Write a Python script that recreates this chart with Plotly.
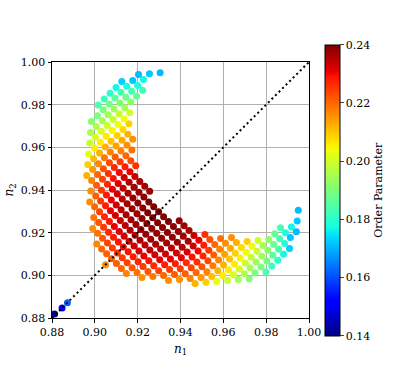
import plotly.graph_objects as go

# --- data (n1, n2, order parameter) ---

# small tail near the origin of the plot
tail_n1 = [0.8812, 0.8847, 0.8872]
tail_n2 = [0.8819, 0.8847, 0.8872]
tail_op = [0.142, 0.151, 0.162]

# dense central patch, one line per diagonal stripe
core_n1 = [
    0.9050,
    0.9009, 0.9032, 0.9055, 0.9078, 0.9101, 0.9124, 0.9147,
    0.8990, 0.9013, 0.9036, 0.9059, 0.9082, 0.9105, 0.9128, 0.9151, 0.9174, 0.9197, 0.9220,
    0.8995, 0.9018, 0.9041, 0.9064, 0.9087, 0.9110, 0.9133, 0.9156, 0.9179, 0.9202, 0.9225, 0.9248, 0.9271,
    0.8976, 0.8999, 0.9022, 0.9045, 0.9068, 0.9091, 0.9114, 0.9137, 0.9160, 0.9183, 0.9206, 0.9229, 0.9252,
    0.9275, 0.9298, 0.9321, 0.9344,
    0.8981, 0.9004, 0.9027, 0.9050, 0.9073, 0.9096, 0.9119, 0.9142, 0.9165, 0.9188, 0.9211, 0.9234, 0.9257,
    0.9280, 0.9303, 0.9326, 0.9349, 0.9372, 0.9395,
    0.8962, 0.8985, 0.9008, 0.9031, 0.9054, 0.9077, 0.9100, 0.9123, 0.9146, 0.9169, 0.9192, 0.9215, 0.9238,
    0.9261, 0.9284, 0.9307, 0.9330, 0.9353, 0.9376, 0.9399, 0.9422, 0.9445, 0.9468,
    0.8967, 0.8990, 0.9013, 0.9036, 0.9059, 0.9082, 0.9105, 0.9128, 0.9151, 0.9174, 0.9197, 0.9220, 0.9243,
    0.9266, 0.9289, 0.9312, 0.9335, 0.9358, 0.9381, 0.9404, 0.9427, 0.9450, 0.9473, 0.9496, 0.9519,
    0.8971, 0.8994, 0.9017, 0.9040, 0.9063, 0.9086, 0.9109, 0.9132, 0.9155, 0.9178, 0.9201, 0.9224, 0.9247,
    0.9270, 0.9293, 0.9316, 0.9339, 0.9362, 0.9385, 0.9408, 0.9431, 0.9454, 0.9477, 0.9500, 0.9523, 0.9546,
    0.9569,
    0.8976, 0.8999, 0.9022, 0.9045, 0.9068, 0.9091, 0.9114, 0.9137, 0.9160, 0.9183, 0.9206, 0.9229, 0.9252,
    0.9275, 0.9298, 0.9321, 0.9344, 0.9367, 0.9390, 0.9413, 0.9436, 0.9459, 0.9482, 0.9505, 0.9528, 0.9551,
    0.9574, 0.9597, 0.9620,
]
core_n2 = [
    0.9050,
    0.9147, 0.9124, 0.9101, 0.9078, 0.9055, 0.9032, 0.9009,
    0.9220, 0.9197, 0.9174, 0.9151, 0.9128, 0.9105, 0.9082, 0.9059, 0.9036, 0.9013, 0.8990,
    0.9271, 0.9248, 0.9225, 0.9202, 0.9179, 0.9156, 0.9133, 0.9110, 0.9087, 0.9064, 0.9041, 0.9018, 0.8995,
    0.9344, 0.9321, 0.9298, 0.9275, 0.9252, 0.9229, 0.9206, 0.9183, 0.9160, 0.9137, 0.9114, 0.9091, 0.9068,
    0.9045, 0.9022, 0.8999, 0.8976,
    0.9395, 0.9372, 0.9349, 0.9326, 0.9303, 0.9280, 0.9257, 0.9234, 0.9211, 0.9188, 0.9165, 0.9142, 0.9119,
    0.9096, 0.9073, 0.9050, 0.9027, 0.9004, 0.8981,
    0.9468, 0.9445, 0.9422, 0.9399, 0.9376, 0.9353, 0.9330, 0.9307, 0.9284, 0.9261, 0.9238, 0.9215, 0.9192,
    0.9169, 0.9146, 0.9123, 0.9100, 0.9077, 0.9054, 0.9031, 0.9008, 0.8985, 0.8962,
    0.9519, 0.9496, 0.9473, 0.9450, 0.9427, 0.9404, 0.9381, 0.9358, 0.9335, 0.9312, 0.9289, 0.9266, 0.9243,
    0.9220, 0.9197, 0.9174, 0.9151, 0.9128, 0.9105, 0.9082, 0.9059, 0.9036, 0.9013, 0.8990, 0.8967,
    0.9569, 0.9546, 0.9523, 0.9500, 0.9477, 0.9454, 0.9431, 0.9408, 0.9385, 0.9362, 0.9339, 0.9316, 0.9293,
    0.9270, 0.9247, 0.9224, 0.9201, 0.9178, 0.9155, 0.9132, 0.9109, 0.9086, 0.9063, 0.9040, 0.9017, 0.8994,
    0.8971,
    0.9620, 0.9597, 0.9574, 0.9551, 0.9528, 0.9505, 0.9482, 0.9459, 0.9436, 0.9413, 0.9390, 0.9367, 0.9344,
    0.9321, 0.9298, 0.9275, 0.9252, 0.9229, 0.9206, 0.9183, 0.9160, 0.9137, 0.9114, 0.9091, 0.9068, 0.9045,
    0.9022, 0.8999, 0.8976,
]
core_op = [
    0.216,
    0.217, 0.220, 0.221, 0.221, 0.221, 0.220, 0.217,
    0.216, 0.219, 0.222, 0.224, 0.225, 0.226, 0.225, 0.224, 0.222, 0.219, 0.216,
    0.218, 0.222, 0.225, 0.227, 0.228, 0.229, 0.230, 0.229, 0.228, 0.227, 0.225, 0.222, 0.218,
    0.216, 0.220, 0.224, 0.227, 0.229, 0.231, 0.232, 0.233, 0.233, 0.233, 0.232, 0.231, 0.229,
    0.227, 0.224, 0.220, 0.216,
    0.216, 0.221, 0.225, 0.228, 0.231, 0.233, 0.234, 0.235, 0.236, 0.236, 0.236, 0.235, 0.234,
    0.233, 0.231, 0.228, 0.225, 0.221, 0.216,
    0.212, 0.217, 0.221, 0.225, 0.228, 0.231, 0.233, 0.235, 0.236, 0.237, 0.238, 0.238, 0.238,
    0.237, 0.236, 0.235, 0.233, 0.231, 0.228, 0.225, 0.221, 0.217, 0.212,
    0.209, 0.215, 0.220, 0.224, 0.227, 0.231, 0.233, 0.235, 0.237, 0.238, 0.238, 0.239, 0.239,
    0.239, 0.238, 0.238, 0.237, 0.235, 0.233, 0.231, 0.227, 0.224, 0.220, 0.215, 0.209,
    0.203, 0.211, 0.217, 0.222, 0.226, 0.229, 0.232, 0.235, 0.237, 0.238, 0.239, 0.239, 0.240,
    0.240, 0.240, 0.239, 0.239, 0.238, 0.237, 0.235, 0.232, 0.229, 0.226, 0.222, 0.217, 0.211,
    0.203,
    0.199, 0.206, 0.212, 0.218, 0.223, 0.227, 0.230, 0.233, 0.236, 0.237, 0.238, 0.239, 0.240,
    0.240, 0.240, 0.240, 0.240, 0.239, 0.238, 0.237, 0.236, 0.233, 0.230, 0.227, 0.223, 0.218,
    0.212, 0.206, 0.199,
]

# lower-right arm (n1 > n2)
lower_n1 = [
    0.9394, 0.9417, 0.9440, 0.9463, 0.9486, 0.9509, 0.9532, 0.9555, 0.9578, 0.9601, 0.9624, 0.9647, 0.9670,
    0.9514, 0.9537, 0.9560, 0.9583, 0.9606, 0.9629, 0.9652, 0.9675, 0.9698, 0.9721,
    0.9587, 0.9610, 0.9633, 0.9656, 0.9679, 0.9702, 0.9725, 0.9748,
    0.9638, 0.9661, 0.9684, 0.9707, 0.9730, 0.9753, 0.9776, 0.9799,
    0.9711, 0.9734, 0.9757, 0.9780, 0.9803, 0.9826,
    0.9762, 0.9785, 0.9808, 0.9831, 0.9854,
    0.9812, 0.9835, 0.9858, 0.9881,
    0.9840, 0.9863, 0.9886, 0.9909,
    0.9867, 0.9890, 0.9913,
    0.9918, 0.9941,
    0.9945,
    0.9950,
]
lower_n2 = [
    0.9256, 0.9233, 0.9210, 0.9187, 0.9164, 0.9141, 0.9118, 0.9095, 0.9072, 0.9049, 0.9026, 0.9003, 0.8980,
    0.9191, 0.9168, 0.9145, 0.9122, 0.9099, 0.9076, 0.9053, 0.9030, 0.9007, 0.8984,
    0.9173, 0.9150, 0.9127, 0.9104, 0.9081, 0.9058, 0.9035, 0.9012,
    0.9177, 0.9154, 0.9131, 0.9108, 0.9085, 0.9062, 0.9039, 0.9016,
    0.9159, 0.9136, 0.9113, 0.9090, 0.9067, 0.9044,
    0.9163, 0.9140, 0.9117, 0.9094, 0.9071,
    0.9168, 0.9145, 0.9122, 0.9099,
    0.9195, 0.9172, 0.9149, 0.9126,
    0.9223, 0.9200, 0.9177,
    0.9227, 0.9204,
    0.9255,
    0.9305,
]
lower_op = [
    0.238, 0.237, 0.236, 0.234, 0.231, 0.228, 0.225, 0.221, 0.217, 0.212, 0.206, 0.201, 0.195,
    0.226, 0.223, 0.220, 0.217, 0.214, 0.210, 0.206, 0.201, 0.196, 0.191,
    0.219, 0.216, 0.213, 0.209, 0.205, 0.200, 0.195, 0.190,
    0.216, 0.212, 0.208, 0.204, 0.199, 0.194, 0.190, 0.184,
    0.209, 0.204, 0.199, 0.194, 0.189, 0.182,
    0.200, 0.195, 0.191, 0.186, 0.180,
    0.192, 0.188, 0.184, 0.177,
    0.187, 0.183, 0.179, 0.173,
    0.183, 0.178, 0.172,
    0.177, 0.171,
    0.172,
    0.171,
]

# upper-left arm (n2 > n1)
upper_n1 = [
    0.9256, 0.9233, 0.9210, 0.9187, 0.9164, 0.9141, 0.9118, 0.9095, 0.9072, 0.9049, 0.9026, 0.9003, 0.8980,
    0.9191, 0.9168, 0.9145, 0.9122, 0.9099, 0.9076, 0.9053, 0.9030, 0.9007, 0.8984,
    0.9173, 0.9150, 0.9127, 0.9104, 0.9081, 0.9058, 0.9035, 0.9012,
    0.9177, 0.9154, 0.9131, 0.9108, 0.9085, 0.9062, 0.9039, 0.9016,
    0.9159, 0.9136, 0.9113, 0.9090, 0.9067, 0.9044,
    0.9163, 0.9140, 0.9117, 0.9094, 0.9071,
    0.9168, 0.9145, 0.9122, 0.9099,
    0.9195, 0.9172, 0.9149, 0.9126,
    0.9223, 0.9200, 0.9177,
    0.9227, 0.9204,
    0.9255,
    0.9305,
]
upper_n2 = [
    0.9394, 0.9417, 0.9440, 0.9463, 0.9486, 0.9509, 0.9532, 0.9555, 0.9578, 0.9601, 0.9624, 0.9647, 0.9670,
    0.9514, 0.9537, 0.9560, 0.9583, 0.9606, 0.9629, 0.9652, 0.9675, 0.9698, 0.9721,
    0.9587, 0.9610, 0.9633, 0.9656, 0.9679, 0.9702, 0.9725, 0.9748,
    0.9638, 0.9661, 0.9684, 0.9707, 0.9730, 0.9753, 0.9776, 0.9799,
    0.9711, 0.9734, 0.9757, 0.9780, 0.9803, 0.9826,
    0.9762, 0.9785, 0.9808, 0.9831, 0.9854,
    0.9812, 0.9835, 0.9858, 0.9881,
    0.9840, 0.9863, 0.9886, 0.9909,
    0.9867, 0.9890, 0.9913,
    0.9918, 0.9941,
    0.9945,
    0.9950,
]
upper_op = [
    0.238, 0.237, 0.236, 0.234, 0.231, 0.228, 0.225, 0.221, 0.217, 0.212, 0.206, 0.201, 0.195,
    0.226, 0.223, 0.220, 0.217, 0.214, 0.210, 0.206, 0.201, 0.196, 0.191,
    0.219, 0.216, 0.213, 0.209, 0.205, 0.200, 0.195, 0.190,
    0.216, 0.212, 0.208, 0.204, 0.199, 0.194, 0.190, 0.184,
    0.209, 0.204, 0.199, 0.194, 0.189, 0.182,
    0.200, 0.195, 0.191, 0.186, 0.180,
    0.192, 0.188, 0.184, 0.177,
    0.187, 0.183, 0.179, 0.173,
    0.183, 0.178, 0.172,
    0.177, 0.171,
    0.172,
    0.171,
]

axis_ticks = [0.88, 0.90, 0.92, 0.94, 0.96, 0.98, 1.00]
cbar_ticks = [0.14, 0.16, 0.18, 0.20, 0.22, 0.24]

# matplotlib-style jet
jet = [
    [0.0, "rgb(0,0,128)"], [0.11, "rgb(0,0,255)"], [0.125, "rgb(0,0,255)"],
    [0.34, "rgb(0,219,255)"], [0.35, "rgb(0,230,247)"], [0.375, "rgb(21,255,226)"],
    [0.64, "rgb(239,255,8)"], [0.65, "rgb(247,245,0)"], [0.66, "rgb(255,236,0)"],
    [0.89, "rgb(255,19,0)"], [0.91, "rgb(232,0,0)"], [1.0, "rgb(128,0,0)"],
]

FONT = "DejaVu Serif"

fig = go.Figure()

for xs, ys, cs in [
    (tail_n1, tail_n2, tail_op),
    (core_n1, core_n2, core_op),
    (lower_n1, lower_n2, lower_op),
    (upper_n1, upper_n2, upper_op),
]:
    fig.add_trace(
        go.Scatter(
            x=xs,
            y=ys,
            mode="markers",
            marker=dict(size=7, color=cs, coloraxis="coloraxis", line=dict(width=0)),
            showlegend=False,
        )
    )

# y = x reference line
fig.add_trace(
    go.Scatter(
        x=[axis_ticks[0], axis_ticks[-1]],
        y=[axis_ticks[0], axis_ticks[-1]],
        mode="lines",
        line=dict(color="black", width=2, dash="2px,3px"),
        showlegend=False,
    )
)

axis_style = dict(
    range=[0.88, 1.0],
    tickvals=axis_ticks,
    tickformat=".2f",
    showgrid=True,
    gridcolor="#b0b0b0",
    gridwidth=0.8,
    zeroline=False,
    showline=True,
    linecolor="black",
    linewidth=1,
    mirror=True,
    ticks="outside",
    ticklen=3.5,
    tickwidth=0.8,
    tickcolor="black",
    tickfont=dict(family=FONT, size=11, color="black"),
    automargin=False,
)

fig.update_layout(
    width=415,
    height=377,
    margin=dict(l=52, r=106, t=62, b=59, autoexpand=False),
    paper_bgcolor="white",
    plot_bgcolor="white",
    font=dict(family=FONT, size=11, color="black"),
    xaxis=dict(axis_style, title=dict(text="<i>n</i><sub>1</sub>", standoff=6,
                                      font=dict(family=FONT, size=12))),
    yaxis=dict(axis_style, title=dict(text="<i>n</i><sub>2</sub>", standoff=4,
                                      font=dict(family=FONT, size=12))),
    coloraxis=dict(
        colorscale=jet,
        cmin=0.14,
        cmax=0.24,
        colorbar=dict(
            x=1.0624,
            xanchor="left",
            xpad=0,
            y=1.0676,
            yanchor="top",
            ypad=0,
            len=291,
            lenmode="pixels",
            thickness=15,
            outlinewidth=1,
            outlinecolor="black",
            ticks="outside",
            ticklen=3.5,
            tickwidth=0.8,
            tickvals=cbar_ticks,
            tickformat=".2f",
            tickfont=dict(family=FONT, size=11),
            title=dict(text="Order Parameter", side="right",
                       font=dict(family=FONT, size=11)),
        ),
    ),
)

# drop the browser's default 8px page margin so the figure sits at (0, 0)
fig.write_html(
    "out.html",
    config={"displayModeBar": False},
    post_script="document.body.style.margin = '0px';",
)
